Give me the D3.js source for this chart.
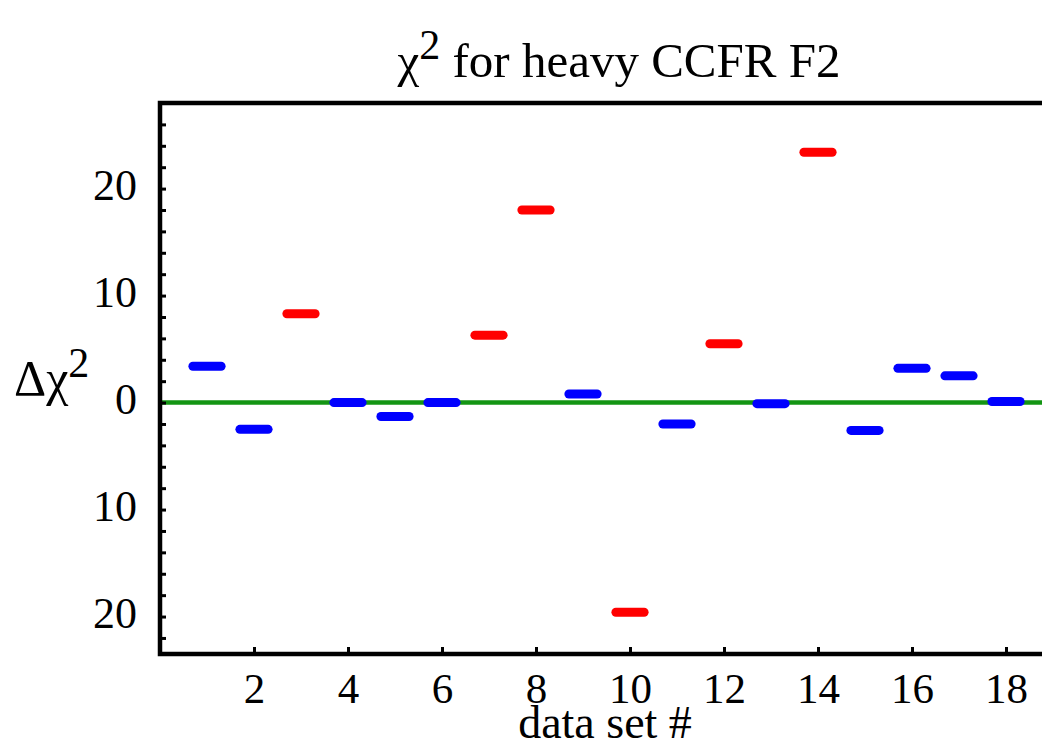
<!DOCTYPE html>
<html>
<head>
<meta charset="utf-8">
<style>
  body { margin: 0; background: #fff; }
  svg text { font-family: "Liberation Serif", "Times New Roman", serif; fill: #000; }
</style>
</head>
<body>
<svg id="chart" width="1042" height="745"></svg>

<script src="https://d3js.org/d3.v7.min.js"></script>
<script>

// data sets 1..18, delta chi^2
var dataSets = [1, 2, 3, 4, 5, 6, 7, 8, 9, 10, 11, 12, 13, 14, 15, 16, 17, 18]
var deltaChi2 = [3.4, -2.5, 8.3, 0, -1.3, 0, 6.3, 18.0, 0.8, -19.6, -2.0, 5.5, -0.1, 23.4, -2.6, 3.2, 2.5, 0.1]
var isRed = [false, false, true, false, false, false, true, true, false, true, false, true, false, true, false, false, false, false]

var xTicks = [2, 4, 6, 8, 10, 12, 14, 16, 18]
var yMajor = [-20, -10, 0, 10, 20]
var yMinor = [-22, -18, -16, -14, -12, -8, -6, -4, -2, 2, 4, 6, 8, 12, 14, 16, 18, 22, 24, 26]

var svg = d3.select("#chart")

var x = d3.scaleLinear().domain([0, 19]).range([160, 1053])
var y = d3.scaleLinear().domain([-23.5, 28]).range([654, 103])

// zero line
svg.append("line")
  .attr("x1", x(0)).attr("x2", x(19))
  .attr("y1", y(0)).attr("y2", y(0))
  .attr("stroke", "#139513")
  .attr("stroke-width", 4.5)

// the little horizontal dashes
svg.selectAll(".dash")
  .data(dataSets)
  .enter().append("line")
  .attr("class", "dash")
  .attr("x1", function(d){ return x(d - 0.3) })
  .attr("x2", function(d){ return x(d + 0.3) })
  .attr("y1", function(d, i){ return y(deltaChi2[i]) })
  .attr("y2", function(d, i){ return y(deltaChi2[i]) })
  .attr("stroke", function(d, i){ return isRed[i] ? "#ff0000" : "#0000ff" })
  .attr("stroke-width", 9)
  .attr("stroke-linecap", "round")

// y axis: ticks point inward, labels show absolute values
var yAxis = svg.append("g")
  .attr("transform", "translate(" + x(0) + ",0)")
  .call(d3.axisLeft(y).tickValues(yMajor).tickSize(-6).tickPadding(23)
    .tickFormat(function(d){ return Math.abs(d) }))
yAxis.select(".domain").remove()
yAxis.selectAll(".tick line").attr("stroke", "#000").attr("stroke-width", 3)
yAxis.selectAll(".tick text")
  .attr("dy", 11)
  .style("font-size", "44px")
  .style("font-family", "Liberation Serif")

var yMinorAxis = svg.append("g")
  .attr("transform", "translate(" + x(0) + ",0)")
  .call(d3.axisLeft(y).tickValues(yMinor).tickSize(-6).tickFormat(""))
yMinorAxis.select(".domain").remove()
yMinorAxis.selectAll(".tick line").attr("stroke", "#000").attr("stroke-width", 3)

// x axis
var xAxis = svg.append("g")
  .attr("transform", "translate(0," + y(-23.5) + ")")
  .call(d3.axisBottom(x).tickValues(xTicks).tickSize(-7).tickPadding(0))
xAxis.select(".domain").remove()
xAxis.selectAll(".tick line").attr("stroke", "#000").attr("stroke-width", 3)
xAxis.selectAll(".tick text")
  .attr("y", 0)
  .attr("dy", 49)
  .style("font-size", "43px")
  .style("font-family", "Liberation Serif")

// frame (right side runs off the picture)
svg.append("rect")
  .attr("x", x(0)).attr("y", y(28))
  .attr("width", x(19) - x(0)).attr("height", y(-23.5) - y(28))
  .attr("fill", "none")
  .attr("stroke", "#000")
  .attr("stroke-width", 4.5)

// title
var title = svg.append("text")
  .attr("x", 619).attr("y", 77)
  .attr("text-anchor", "middle")
  .style("font-size", "49px")
title.append("tspan").text("\u03c7")
title.append("tspan").attr("dy", -18).style("font-size", "42px").text("2")
title.append("tspan").attr("dy", 18).text(" for heavy CCFR F2")

// y label
var ylab = svg.append("text")
  .attr("x", 14).attr("y", 395)
  .style("font-size", "50px")
ylab.append("tspan").text("\u0394\u03c7")
ylab.append("tspan").attr("dy", -18).style("font-size", "42px").text("2")

// x label
svg.append("text")
  .attr("x", 605).attr("y", 738)
  .attr("text-anchor", "middle")
  .style("font-size", "46px")
  .text("data set #")

</script>
</body>
</html>
